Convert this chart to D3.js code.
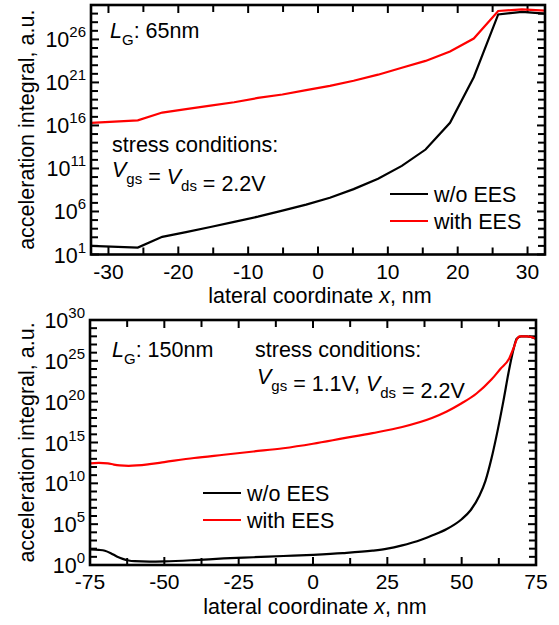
<!DOCTYPE html>
<html><head><meta charset="utf-8">
<script src="https://cdn.jsdelivr.net/npm/d3@7"></script>
<style>body{margin:0;background:#fff}svg{display:block}text{font-family:"Liberation Sans",Arial,sans-serif;fill:#000}</style>
</head><body>
<svg id="c" width="559" height="625"></svg>
<script>
// ---- Data (y values are log10 of acceleration integral) ----
const topX = [-32.5,-25.8,-22.3,-18.9,-15.4,-12,-8.6,-5.1,-1.7,1.7,5.1,8.6,12,15.4,18.9,22.3,25.8,29.2,32.5];
const topBlack = [2.0,1.8,3.05,3.6,4.2,4.8,5.4,6.1,6.8,7.6,8.6,9.8,11.3,13.2,16.3,21.6,28.9,29.2,29.0];
const topRed = [16.3,16.6,17.5,17.9,18.3,18.7,19.2,19.6,20.1,20.6,21.2,21.9,22.7,23.5,24.6,26.1,29.3,29.5,29.35];

const botBlackX = [-75,-72,-70,-68,-66,-64,-62,-60,-55,-50,-40,-30,-20,-10,0,10,20,25,30,35,40,45,50,53,56,58,60,62,64,66,67.5,68.5,70,72,75];
const botBlack = [1.9,1.85,1.75,1.45,1.05,0.75,0.55,0.47,0.42,0.45,0.6,0.8,0.95,1.1,1.25,1.45,1.75,2.0,2.4,2.9,3.6,4.4,5.6,6.7,8.5,10.3,13.0,16.3,20.0,24.0,26.5,27.7,28.0,28.0,27.7];
const botRedX = [-75,-72,-69,-67,-65,-62,-55,-50,-40,-30,-20,-10,0,10,20,30,40,45,50,55,60,63,66,67.5,68.5,69.5,72,75];
const botRed = [12.45,12.5,12.45,12.3,12.2,12.15,12.35,12.6,13.1,13.5,13.9,14.3,14.85,15.5,16.15,16.9,18.0,18.8,19.8,21.0,22.7,24.0,25.3,26.6,27.6,28.0,28.0,27.7];

const topXTicks = [-30,-20,-10,0,10,20,30];
const topXMinor = [-30,-25,-20,-15,-10,-5,0,5,10,15,20,25,30];
const topYTicks = [1,6,11,16,21,26];
const botXTicks = [-75,-50,-25,0,25,50,75];
const botXMinor = [-75,-62.5,-50,-37.5,-25,-12.5,0,12.5,25,37.5,50,62.5,75];
const botYTicks = [0,5,10,15,20,25,30];

const seriesNames = ["w/o EES","with EES"];
const seriesColors = ["#000000","#ff0000"];

const FS = 21.5, TS = 21, SS = 15;
const svg = d3.select("#c");

function panel(o){
  const g = svg.append("g");
  const x = d3.scaleLinear().domain(o.xdom).range([o.l,o.r]);
  const y = d3.scaleLog().domain([Math.pow(10,o.ydom[0]),Math.pow(10,o.ydom[1])]).range([o.b,o.t]);
  const decades = d3.range(o.ydom[0],o.ydom[1]+1);
  const tk = g.append("g").attr("stroke","#000").attr("stroke-width",2);
  decades.forEach(d=>{
    const yy=y(Math.pow(10,d)); const len = o.yTicks.includes(d)?8:7;
    tk.append("line").attr("x1",o.l).attr("x2",o.l+len).attr("y1",yy).attr("y2",yy);
    tk.append("line").attr("x1",o.r).attr("x2",o.r-len).attr("y1",yy).attr("y2",yy);
  });
  o.xMinor.forEach(v=>{
    const xx=x(v); const len=o.xTicks.includes(v)?8:7;
    tk.append("line").attr("x1",xx).attr("x2",xx).attr("y1",o.b).attr("y2",o.b-len);
    tk.append("line").attr("x1",xx).attr("x2",xx).attr("y1",o.t).attr("y2",o.t+len);
  });
  const line = d3.line().x(d=>x(d[0])).y(d=>y(Math.pow(10,d[1]))).curve(o.curve);
  const clip = "clip"+o.id;
  g.append("clipPath").attr("id",clip).append("rect").attr("x",o.l).attr("y",o.t).attr("width",o.r-o.l).attr("height",o.b-o.t);
  o.series.forEach((s,i)=>{
    g.append("path").attr("d",line(s.x.map((v,j)=>[v,s.y[j]]))).attr("fill","none")
     .attr("stroke",seriesColors[i]).attr("stroke-width",2.2).attr("clip-path",`url(#${clip})`);
  });
  g.append("rect").attr("x",o.l).attr("y",o.t).attr("width",o.r-o.l).attr("height",o.b-o.t)
   .attr("fill","none").attr("stroke","#000").attr("stroke-width",2.6);
  o.yTicks.forEach(d=>{
    const t=g.append("text").attr("x",o.l-5).attr("y",y(Math.pow(10,d))+8).attr("text-anchor","end").attr("font-size",FS);
    t.append("tspan").text("10");
    t.append("tspan").attr("dy",-10).attr("font-size",SS).text(String(d));
  });
  o.xTicks.forEach(v=>{
    g.append("text").attr("x",x(v)).attr("y",o.b+24).attr("text-anchor","middle").attr("font-size",TS).text(v);
  });
  const xt=g.append("text").attr("x",(o.l+o.r)/2+2).attr("y",o.b+o.xtDy).attr("text-anchor","middle").attr("font-size",FS);
  xt.append("tspan").text("lateral coordinate ");
  xt.append("tspan").attr("font-style","italic").text("x");
  xt.append("tspan").text(", nm");
  g.append("text").attr("transform",`translate(34,${(o.t+o.b)/2}) rotate(-90)`).attr("text-anchor","middle")
   .attr("font-size",FS).text("acceleration integral, a.u.");
  o.legend.forEach((ly,i)=>{
    g.append("line").attr("x1",o.legX).attr("x2",o.legX+38).attr("y1",ly).attr("y2",ly).attr("stroke",seriesColors[i]).attr("stroke-width",2.2);
    g.append("text").attr("x",o.legX+44).attr("y",ly+7.5).attr("font-size",FS).text(seriesNames[i]);
  });
  return g;
}

function lg(g,xx,yy,rest){
  const t=g.append("text").attr("x",xx).attr("y",yy).attr("font-size",FS);
  t.append("tspan").attr("font-style","italic").text("L");
  t.append("tspan").attr("dy",7).attr("font-size",SS).text("G");
  t.append("tspan").attr("dy",-7).text(rest);
}
function vtext(g,xx,yy,parts){
  const t=g.append("text").attr("x",xx).attr("y",yy).attr("font-size",FS);
  parts.forEach(p=>{
    if(p.sub){ t.append("tspan").attr("dy",7).attr("font-size",SS).text(p.sub); t.append("tspan").attr("dy",-7).text(""); }
    else if(p.it){ t.append("tspan").attr("font-style","italic").text(p.it); }
    else t.append("tspan").text(p.t);
  });
}

const g1 = panel({id:1,l:91,r:545,t:5,b:254.5,xdom:[-32.5,32.5],ydom:[1,30],xTicks:topXTicks,xMinor:topXMinor,yTicks:topYTicks,
  curve:d3.curveLinear,series:[{x:topX,y:topBlack},{x:topX,y:topRed}],legX:390,legend:[194,221],xtDy:48});
lg(g1,110,38,": 65nm");
g1.append("text").attr("x",112).attr("y",152).attr("font-size",FS).text("stress conditions:");
vtext(g1,112,177,[{it:"V"},{sub:"gs"},{t:" = "},{it:"V"},{sub:"ds"},{t:" = 2.2V"}]);

const g2 = panel({id:2,l:90,r:536,t:320,b:565,xdom:[-75,75],ydom:[0,30],xTicks:botXTicks,xMinor:botXMinor,yTicks:botYTicks,
  curve:d3.curveMonotoneX,series:[{x:botBlackX,y:botBlack},{x:botRedX,y:botRed}],legX:203,legend:[493,520],xtDy:49});
lg(g2,112,357,": 150nm");
g2.append("text").attr("x",255).attr("y",357).attr("font-size",FS).text("stress conditions:");
vtext(g2,257,384,[{it:"V"},{sub:"gs"},{t:" = 1.1V, "},{it:"V"},{sub:"ds"},{t:" = 2.2V"}]);
</script>
</body></html>
